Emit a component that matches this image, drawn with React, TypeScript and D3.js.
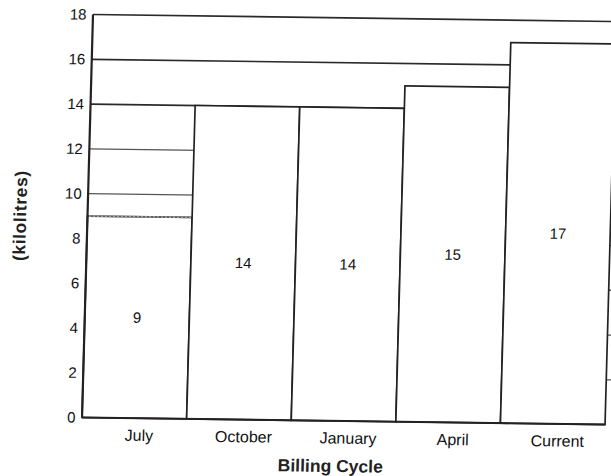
import React from "react";
import * as d3 from "d3";

// billing cycles and the water used in each (kilolitres)
const categories = ["July", "October", "January", "April", "Current"];
const usage = [9, 14, 14, 15, 17];
const yTicks = [0, 2, 4, 6, 8, 10, 12, 14, 16, 18];

const W = 611;
const H = 476;
const margin = { top: 18, right: 0, bottom: 55, left: 87.5 };
const plotRight = 610.5;

// the scan is slightly skewed: mimic it with a small shear
const kx = -0.0272;
const ky = 0.0135;
const cx = 345;
const cy = 220;

const FONT = "'Liberation Sans', Arial, Helvetica, sans-serif";
const INK = "#222";

const App: React.FC = () => {
  const x = d3
    .scaleBand<string>()
    .domain(categories)
    .range([margin.left, plotRight])
    .padding(0);
  const y = d3
    .scaleLinear()
    .domain([0, 18])
    .range([H - margin.bottom, margin.top]);
  const y0 = y(0);

  return (
    <svg
      width={W}
      height={H}
      style={{ position: "fixed", left: 0, top: 0, background: "#fff" }}
      fontFamily={FONT}
    >
      <rect width={W} height={H} fill="#fff" />
      <g transform={`matrix(1, ${ky}, ${kx}, 1, ${-kx * cy}, ${-ky * cx})`}>
        {/* grid lines, hidden behind the white bars */}
        {yTicks
          .filter((t) => t > 0)
          .map((t) => (
            <line
              key={`g${t}`}
              x1={margin.left}
              x2={W + 20}
              y1={y(t)}
              y2={y(t)}
              stroke={t >= 14 ? "#2a2a2a" : "#555"}
              strokeWidth={t >= 14 ? 1.7 : 1.4}
            />
          ))}

        {/* bars */}
        {usage.map((v, i) => (
          <rect
            key={`b${i}`}
            x={x(categories[i])!}
            y={y(v)}
            width={x.bandwidth()}
            height={y0 - y(v)}
            fill="#fff"
            stroke={INK}
            strokeWidth={1.7}
          />
        ))}
        {/* the lowest bar's top edge prints faint in the scan */}
        {usage.map((v, i) =>
          v < 10 ? (
            <line
              key={`f${i}`}
              x1={x(categories[i])! + 1}
              x2={x(categories[i])! + x.bandwidth() - 1}
              y1={y(v)}
              y2={y(v)}
              stroke="#999"
              strokeWidth={1.7}
              strokeDasharray="3 1"
            />
          ) : null
        )}

        {/* value labels */}
        {usage.map((v, i) => (
          <text
            key={`v${i}`}
            x={x(categories[i])! + x.bandwidth() / 2}
            y={y(v / 2)}
            dy="0.35em"
            textAnchor="middle"
            fontSize={15}
            fill="#111"
          >
            {v}
          </text>
        ))}

        {/* axes */}
        <line
          x1={margin.left}
          x2={margin.left}
          y1={y(18)}
          y2={y0}
          stroke={INK}
          strokeWidth={2.2}
        />
        <line
          x1={margin.left}
          x2={plotRight}
          y1={y0}
          y2={y0}
          stroke={INK}
          strokeWidth={2}
        />

        {yTicks.map((t) => (
          <text
            key={`t${t}`}
            x={margin.left - 6.5}
            y={y(t)}
            dy="0.35em"
            textAnchor="end"
            fontSize={15}
            fill="#111"
          >
            {t}
          </text>
        ))}

        {categories.map((c) => (
          <text
            key={`c${c}`}
            x={x(c)! + x.bandwidth() / 2 + 5}
            y={y0 + 17}
            dy="0.35em"
            textAnchor="middle"
            fontSize={16}
            fill="#111"
          >
            {c}
          </text>
        ))}

        <text
          x={337}
          y={466}
          dy="0.35em"
          textAnchor="middle"
          fontSize={17.5}
          fontWeight="bold"
          fill="#222"
        >
          Billing Cycle
        </text>
        <text
          transform={`translate(20, 220) rotate(-90)`}
          dy="0.35em"
          textAnchor="middle"
          fontSize={17.5}
          fontWeight="bold"
          fill="#222"
          letterSpacing={0.6}
        >
          (kilolitres)
        </text>
      </g>
    </svg>
  );
};

export default App;
